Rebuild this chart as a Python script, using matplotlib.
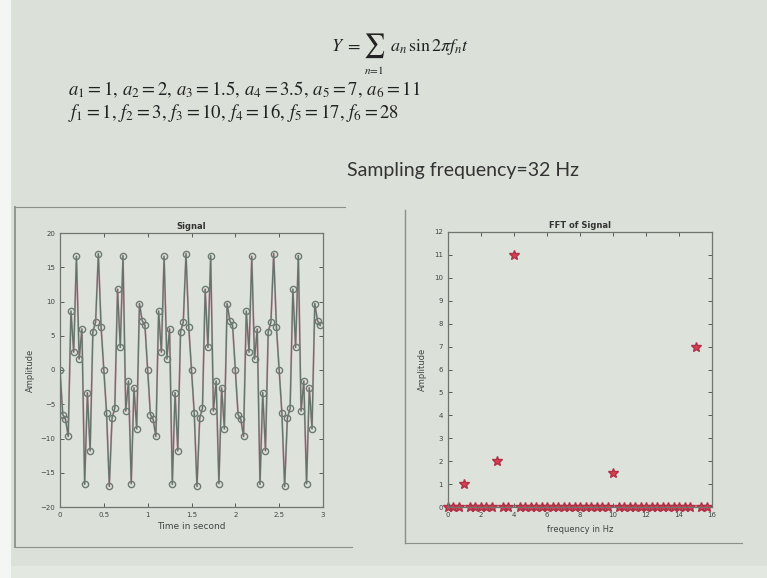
import numpy as np
import matplotlib
matplotlib.use("Agg")
import matplotlib.pyplot as plt
from matplotlib.lines import Line2D
from matplotlib.patches import Rectangle

plt.rcParams["mathtext.fontset"] = "stix"

# Sampled signal (fs = 32 Hz, 3 seconds)
fs = 32
signal = [
    0.0, -6.5, -7.2, -9.7, 8.6, 2.6, 16.6, 1.6, 6.0, -16.7, -3.3, -11.8, 5.6, 7.0, 17.0, 6.3,
    0.0, -6.3, -17.0, -7.0, -5.6, 11.8, 3.3, 16.7, -6.0, -1.6, -16.6, -2.6, -8.6, 9.7, 7.2, 6.5,
    0.0, -6.5, -7.2, -9.7, 8.6, 2.6, 16.6, 1.6, 6.0, -16.7, -3.3, -11.8, 5.6, 7.0, 17.0, 6.3,
    0.0, -6.3, -17.0, -7.0, -5.6, 11.8, 3.3, 16.7, -6.0, -1.6, -16.6, -2.6, -8.6, 9.7, 7.2, 6.5,
    0.0, -6.5, -7.2, -9.7, 8.6, 2.6, 16.6, 1.6, 6.0, -16.7, -3.3, -11.8, 5.6, 7.0, 17.0, 6.3,
    0.0, -6.3, -17.0, -7.0, -5.6, 11.8, 3.3, 16.7, -6.0, -1.6, -16.6, -2.6, -8.6, 9.7, 7.2, 6.5,
]
time = np.arange(len(signal)) / fs

# Single-sided FFT magnitude (resolution 1/3 Hz)
fft_amp = [
    0, 0, 0, 1.0, 0, 0, 0, 0, 0, 2.0, 0, 0, 11.0, 0, 0, 0,
    0, 0, 0, 0, 0, 0, 0, 0, 0, 0, 0, 0, 0, 0, 1.5, 0,
    0, 0, 0, 0, 0, 0, 0, 0, 0, 0, 0, 0, 0, 7.0, 0, 0,
]
fft_freq = np.arange(len(fft_amp)) * fs / len(signal)

W, H = 767, 578
bg = "#dbe1d9"
fig = plt.figure(figsize=(W / 100, H / 100), dpi=100, facecolor=bg)

def fx(px):
    return px / W

def fy(py):
    return 1 - py / H

# white margin on the left edge of the slide, lighter strip at the bottom
fig.patches.append(Rectangle((0, 0), fx(11), 1, transform=fig.transFigure,
                             facecolor="#f4f6f3", edgecolor="none", zorder=-5))
fig.patches.append(Rectangle((fx(11), 0), 1, fy(566), transform=fig.transFigure,
                             facecolor="#e3e8e1", edgecolor="none", zorder=-5))

# slide text: Y = sum a_n sin 2 pi f_n t
ink = "#222222"
fig.text(fx(331), fy(46), r"$Y\ =$", fontsize=13, ha="left", va="center", color=ink)
fig.text(fx(374), fy(46), r"$\sum$", fontsize=17, ha="center", va="center", color=ink)
fig.text(fx(374), fy(70), r"$n\!=\!1$", fontsize=8, ha="center", va="center", color=ink)
fig.text(fx(390), fy(47), r"$a_n\,\sin 2\pi f_n t$", fontsize=13, ha="left",
         va="center", color=ink)
fig.text(fx(68), fy(90),
         r"$a_1 = 1,\, a_2 = 2,\, a_3 = 1.5,\, a_4 = 3.5,\, a_5 = 7,\, a_6 = 11$",
         fontsize=13.5, ha="left", va="center", color=ink)
fig.text(fx(68), fy(112),
         r"$f_1 = 1,\, f_2 = 3,\, f_3 = 10,\, f_4 = 16,\, f_5 = 17,\, f_6 = 28$",
         fontsize=13.5, ha="left", va="center", color=ink)
fig.text(fx(347), fy(170), "Sampling frequency=32 Hz", family="Lato",
         fontsize=14, ha="left", va="center", color="#333333")

# window frames around the two figures
frame_col = "#8a918a"
for (x0, y0, x1, y1, lw) in [
    (15, 207, 15, 547, 1.3), (15, 207, 345, 207, 0.8), (15, 547, 352, 547, 0.8),
    (405, 210, 405, 543, 1.0), (405, 543, 742, 543, 0.8),
]:
    fig.add_artist(Line2D([fx(x0), fx(x1)], [fy(y0), fy(y1)],
                          transform=fig.transFigure, color=frame_col, lw=lw))

tick_kw = dict(labelsize=5, colors="#444444", direction="in", length=3, width=0.6,
               top=True, right=True)

# left: time-domain signal
ax1 = fig.add_axes([fx(60), fy(507), fx(323) - fx(60), fy(233) - fy(507)])
ax1.set_facecolor("#dde3db")
ax1.plot(time, signal, color="#d7a0b0", lw=1.4, alpha=0.8, zorder=2)
ax1.plot(time, signal, color="#65746b", lw=1.0, marker="o", markersize=4.5,
         markerfacecolor="none", markeredgecolor="#6d7a72", markeredgewidth=1.0, zorder=3)
ax1.set_xlim(0, 3)
ax1.set_ylim(-20, 20)
ax1.set_xticks([0, 0.5, 1, 1.5, 2, 2.5, 3])
ax1.set_xticklabels(["0", "0.5", "1", "1.5", "2", "2.5", "3"])
ax1.set_yticks([-20, -15, -10, -5, 0, 5, 10, 15, 20])
ax1.tick_params(**tick_kw)
ax1.set_title("Signal", fontsize=6, fontweight="bold", color="#333333", pad=3)
ax1.set_xlabel("Time in second", fontsize=6.5, color="#444444", labelpad=3)
ax1.set_ylabel("Amplitude", fontsize=6, color="#444444", labelpad=4)
for s in ax1.spines.values():
    s.set_color("#6f756f")
    s.set_linewidth(0.9)

# right: FFT magnitude
ax2 = fig.add_axes([fx(448), fy(507), fx(712) - fx(448), fy(232) - fy(507)])
ax2.set_facecolor("#dde3db")
ax2.plot(fft_freq, fft_amp, linestyle="none", marker="*", markersize=7,
         color="#d8404f", markeredgecolor="#b03048", clip_on=False)
ax2.set_xlim(0, 16)
ax2.set_ylim(0, 12)
ax2.set_xticks(range(0, 17, 2))
ax2.set_yticks(range(0, 13))
ax2.tick_params(**tick_kw)
ax2.set_title("FFT of Signal", fontsize=6, fontweight="bold", color="#333333", pad=3)
ax2.set_xlabel("frequency in Hz", fontsize=6, color="#444444", labelpad=5)
ax2.set_ylabel("Amplitude", fontsize=6, color="#444444", labelpad=5)
for s in ax2.spines.values():
    s.set_color("#6f756f")
    s.set_linewidth(0.9)

fig.savefig("out.png", dpi=100, facecolor=bg)
